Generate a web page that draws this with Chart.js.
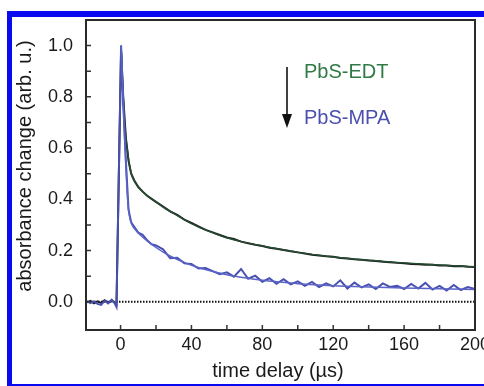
<!DOCTYPE html>
<html>
<head>
<meta charset="utf-8">
<script src="https://cdn.jsdelivr.net/npm/chart.js@4.4.1/dist/chart.umd.min.js"></script>
<style>
  html, body { margin: 0; padding: 0; background: #fff; overflow: hidden; }
  #wrap { position: relative; width: 484px; height: 386px; }
  #frame {
    position: absolute; left: 7px; top: 11px; width: 520px; height: 367px;
    border: 6px solid #0a0af0; border-left-width: 5px; border-right: none;
  }
  #chart { position: absolute; left: 0; top: 0; }
</style>
</head>
<body>
<div id="wrap">
  <div id="frame"></div>
  <canvas id="chart" width="484" height="386"></canvas>
</div>
<script>
const rawTime = [-19, -17, -15, -13, -11, -9, -7, -5, -3.5, -2.3,
  0.3, 1.5, 3, 4.5, 6, 8, 10, 12.5, 15, 17.5,
  20, 24, 28, 32, 36, 40, 44, 48, 52, 56, 60, 64, 68, 72, 76, 80, 84, 88, 92, 96,
  100, 104, 108, 112, 116, 120, 124, 128, 132, 136, 140, 144, 148, 152, 156, 160,
  164, 168, 172, 176, 180, 184, 188, 192, 196, 200];

const edtRaw = [-0.002, 0.004, -0.006, 0.002, -0.004, 0.006, -0.003, 0.005, -0.002, -0.01,
  0.98, 0.8, 0.64, 0.55, 0.5, 0.47, 0.448, 0.43, 0.414, 0.402,
  0.39, 0.372, 0.353, 0.339, 0.321, 0.308, 0.294, 0.281, 0.271, 0.261, 0.251, 0.245, 0.235, 0.229, 0.223, 0.218, 0.211, 0.207, 0.202, 0.197,
  0.193, 0.189, 0.184, 0.181, 0.178, 0.176, 0.171, 0.169, 0.166, 0.164, 0.161, 0.159, 0.156, 0.154, 0.152, 0.151,
  0.148, 0.147, 0.145, 0.145, 0.142, 0.142, 0.139, 0.14, 0.137, 0.136];

const mpaRaw = [0.003, -0.005, 0.002, -0.008, -0.012, 0.004, -0.006, 0.008, -0.004, -0.02,
  1.0, 0.78, 0.55, 0.36, 0.31, 0.29, 0.27, 0.262, 0.24, 0.225,
  0.22, 0.205, 0.17, 0.172, 0.15, 0.148, 0.13, 0.132, 0.12, 0.108, 0.115, 0.098, 0.128, 0.09, 0.102, 0.078, 0.092, 0.07, 0.088, 0.068,
  0.08, 0.062, 0.078, 0.058, 0.072, 0.06, 0.084, 0.052, 0.075, 0.056, 0.068, 0.05, 0.072, 0.058, 0.063, 0.05,
  0.07, 0.052, 0.074, 0.048, 0.062, 0.044, 0.066, 0.046, 0.058, 0.05];

// Fitted decay curves
const fitTime = [0.3, 1, 2, 3, 4, 5, 6.5, 8.5, 11, 15, 20, 25, 30, 35, 40, 50, 60, 70, 80, 90, 100, 120, 140, 160, 180, 200];
const edtFit = [1.0, 0.88, 0.73, 0.64, 0.585, 0.535, 0.49, 0.465, 0.44, 0.415, 0.39, 0.365, 0.345, 0.325, 0.305, 0.275, 0.25, 0.232, 0.218, 0.205, 0.193, 0.175, 0.162, 0.152, 0.144, 0.137];
const mpaFit = [1.0, 0.86, 0.68, 0.53, 0.4, 0.335, 0.3, 0.28, 0.262, 0.238, 0.212, 0.19, 0.172, 0.157, 0.143, 0.122, 0.106, 0.094, 0.084, 0.077, 0.071, 0.063, 0.058, 0.054, 0.051, 0.048];

// Axes
const xTicks = [0, 20, 40, 60, 80, 100, 120, 140, 160, 180, 200];
const xTickLabels = [0, 40, 80, 120, 160, 200];
const yTicks = [0, 0.1, 0.2, 0.3, 0.4, 0.5, 0.6, 0.7, 0.8, 0.9, 1.0];
const yTickLabels = [0, 0.2, 0.4, 0.6, 0.8, 1.0];
const zeroLine = [-19.5, 200];

const seriesNames = ['PbS-EDT', 'PbS-MPA'];
const xTitle = 'time delay (\u00b5s)';
const yTitle = 'absorbance change (arb. u.)';

const pts = (xs, ys) => xs.map((x, i) => ({ x: x, y: ys[i] }));
const near = (arr, v) => arr.some(a => Math.abs(a - v) < 1e-6);
const FONT = '"Liberation Sans", Arial, sans-serif';

// inward tick marks, plot box, axis titles and the arrow legend
const decorations = {
    id: 'decorations',
    afterDatasetsDraw(chart) {
        const { ctx, chartArea: a, scales } = chart;
        ctx.save();
        ctx.strokeStyle = '#333';
        ctx.lineWidth = 1.5;
        ctx.beginPath();
        scales.x.ticks.forEach(t => {
            const px = scales.x.getPixelForValue(t.value);
            ctx.moveTo(px, a.bottom);
            ctx.lineTo(px, a.bottom - 5);
        });
        scales.y.ticks.forEach(t => {
            const py = scales.y.getPixelForValue(t.value);
            ctx.moveTo(a.left, py);
            ctx.lineTo(a.left + 5, py);
        });
        ctx.stroke();
        ctx.lineWidth = 2;
        ctx.strokeStyle = '#2a2a2a';
        ctx.strokeRect(a.left, a.top, a.right - a.left, a.bottom - a.top);
        ctx.restore();
    },
    afterDraw(chart) {
        const { ctx } = chart;
        ctx.save();
        ctx.fillStyle = '#1a1a1a';
        ctx.font = '20px ' + FONT;
        ctx.textAlign = 'center';
        ctx.textBaseline = 'middle';
        ctx.fillText(xTitle, 278, 371);
        ctx.translate(25, 166);
        ctx.rotate(-Math.PI / 2);
        ctx.fillText(yTitle, 0, 0);
        ctx.restore();

        // legend: arrow from EDT to MPA
        ctx.save();
        ctx.strokeStyle = '#111';
        ctx.fillStyle = '#111';
        ctx.lineWidth = 1.6;
        ctx.beginPath();
        ctx.moveTo(287, 67);
        ctx.lineTo(287, 116);
        ctx.stroke();
        ctx.beginPath();
        ctx.moveTo(282, 114);
        ctx.lineTo(292, 114);
        ctx.lineTo(287, 128);
        ctx.closePath();
        ctx.fill();
        ctx.font = '20px ' + FONT;
        ctx.textAlign = 'left';
        ctx.textBaseline = 'middle';
        ctx.fillStyle = '#2f7a45';
        ctx.fillText(seriesNames[0], 304, 72);
        ctx.fillStyle = '#4b4fae';
        ctx.fillText(seriesNames[1], 304, 118);
        ctx.restore();
    }
};

new Chart(document.getElementById('chart'), {
    type: 'line',
    data: {
        datasets: [
            {
                label: 'zero',
                data: pts(zeroLine, [0, 0]),
                borderColor: '#111',
                borderWidth: 2,
                borderDash: [1.5, 1.5],
                pointRadius: 0,
                order: 5
            },
            {
                label: seriesNames[0] + ' data',
                data: pts(rawTime, edtRaw),
                borderColor: '#1e1e1e',
                borderWidth: 2,
                pointRadius: 0,
                tension: 0,
                order: 4
            },
            {
                label: seriesNames[0] + ' fit',
                data: pts(fitTime, edtFit),
                borderColor: '#264d33',
                borderWidth: 1.5,
                pointRadius: 0,
                cubicInterpolationMode: 'monotone',
                order: 3
            },
            {
                label: seriesNames[1] + ' data',
                data: pts(rawTime, mpaRaw),
                borderColor: '#4850b2',
                borderWidth: 2,
                pointRadius: 0,
                tension: 0,
                order: 2
            },
            {
                label: seriesNames[1] + ' fit',
                data: pts(fitTime, mpaFit),
                borderColor: '#5b63c6',
                borderWidth: 1.5,
                pointRadius: 0,
                cubicInterpolationMode: 'monotone',
                order: 1
            }
        ]
    },
    options: {
        responsive: false,
        animation: false,
        devicePixelRatio: 1,
        layout: { padding: { left: 0, top: 20, right: 9, bottom: 0 } },
        plugins: { legend: { display: false }, tooltip: { enabled: false } },
        scales: {
            x: {
                type: 'linear',
                min: -19.5,
                max: 200,
                afterBuildTicks: s => { s.ticks = xTicks.map(v => ({ value: v })); },
                afterFit: s => { s.height = 56; s.paddingLeft = 0; s.paddingRight = 0; },
                grid: { display: false, drawTicks: false },
                border: { display: false },
                ticks: {
                    autoSkip: false,
                    maxRotation: 0,
                    padding: 4,
                    color: '#1a1a1a',
                    font: { family: FONT, size: 18 },
                    callback: v => near(xTickLabels, v) ? String(v) : ''
                }
            },
            y: {
                type: 'linear',
                min: -0.11,
                max: 1.1,
                afterBuildTicks: s => { s.ticks = yTicks.map(v => ({ value: v })); },
                afterFit: s => { s.width = 86; s.paddingTop = 0; s.paddingBottom = 0; },
                grid: { display: false, drawTicks: false },
                border: { display: false },
                ticks: {
                    autoSkip: false,
                    padding: 13,
                    color: '#1a1a1a',
                    font: { family: FONT, size: 18 },
                    callback: v => near(yTickLabels, v) ? v.toFixed(1) : ''
                }
            }
        }
    },
    plugins: [decorations]
});
</script>
</body>
</html>
